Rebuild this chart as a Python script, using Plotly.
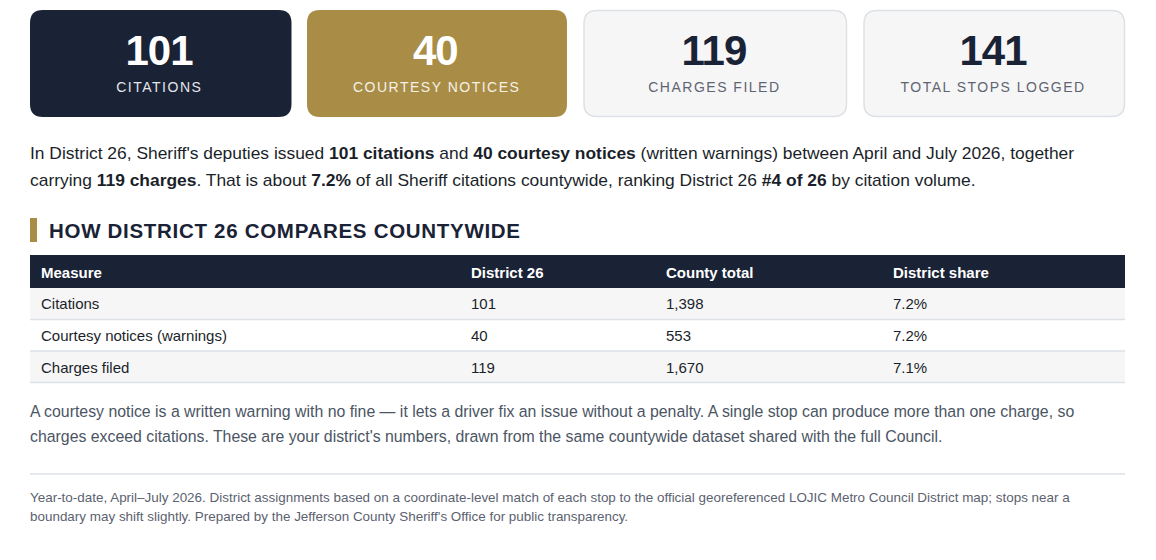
import plotly.graph_objects as go

# ---- data ----
stat_values = ["101", "40", "119", "141"]
stat_labels = ["CITATIONS", "COURTESY NOTICES", "CHARGES FILED", "TOTAL STOPS LOGGED"]
table_header = ["Measure", "District 26", "County total", "District share"]
measures = ["Citations", "Courtesy notices (warnings)", "Charges filed"]
district_values = ["101", "40", "119"]
county_totals = ["1,398", "553", "1,670"]
district_shares = ["7.2%", "7.2%", "7.1%"]
intro_lines = [
    "In District 26, Sheriff's deputies issued <b>101 citations</b> and <b>40 courtesy notices</b> (written warnings) between April and July 2026, together",
    "carrying <b>119 charges</b>. That is about <b>7.2%</b> of all Sheriff citations countywide, ranking District 26 <b>#4 of 26</b> by citation volume.",
]
section_title = "HOW DISTRICT 26 COMPARES COUNTYWIDE"
note_lines = [
    "A courtesy notice is a written warning with no fine — it lets a driver fix an issue without a penalty. A single stop can produce more than one charge, so",
    "charges exceed citations. These are your district's numbers, drawn from the same countywide dataset shared with the full Council.",
]
foot_lines = [
    "Year-to-date, April–July 2026. District assignments based on a coordinate-level match of each stop to the official georeferenced LOJIC Metro Council District map; stops near a",
    "boundary may shift slightly. Prepared by the Jefferson County Sheriff's Office for public transparency.",
]

# ---- style ----
NAVY = "#1a2236"
GOLD = "#a98d47"
PALE = "#f6f6f7"
RULE = "#dde1e6"
INK = "#1b1f2a"
GREY = "#4b5563"
FOOT = "#5b6270"
BODY = "Liberation Sans, Arial, sans-serif"

cards = [
    (30, 291.5, NAVY, None, "#ffffff", "#e3e5ea"),
    (307, 567, GOLD, None, "#ffffff", "#f5f1e6"),
    (583.5, 847, PALE, RULE, NAVY, "#5f6570"),
    (863.5, 1125, PALE, RULE, NAVY, "#5f6570"),
]
col_x = [41, 471, 666, 893]
row_y = [303.5, 335.5, 367.5]
rule_y = [319.5, 351, 382.5]


def rounded(x0, y0, x1, y1, r):
    return (f"M{x0+r},{y0} L{x1-r},{y0} Q{x1},{y0} {x1},{y0+r} L{x1},{y1-r} Q{x1},{y1} {x1-r},{y1} "
            f"L{x0+r},{y1} Q{x0},{y1} {x0},{y1-r} L{x0},{y0+r} Q{x0},{y0} {x0+r},{y0} Z")


fig = go.Figure()
shapes, ann = [], []


def text(x, y, s, size, color, anchor="left"):
    ann.append(dict(x=x, y=y, text=s, xref="x", yref="y", showarrow=False, xanchor=anchor, yanchor="middle",
                    font=dict(size=size, color=color, family=BODY), align=anchor, borderpad=0, borderwidth=0))


for (x0, x1, fill, line, numc, labc), v, lab in zip(cards, stat_values, stat_labels):
    if line:
        shapes.append(dict(type="path", path=rounded(x0 + .5, 10.5, x1 - .5, 116.5, 13), fillcolor=fill,
                           line=dict(color=line, width=1.5), layer="below"))
    else:
        shapes.append(dict(type="path", path=rounded(x0, 10, x1, 117, 13), fillcolor=fill,
                           line=dict(width=0), layer="below"))
    text((x0 + x1) / 2 - 1.5, 50.5, f"<b>{v}</b>", 42, numc, "center")
    text((x0 + x1) / 2 - 1, 87, lab, 14, labc, "center")

for y, s in zip([153, 180], intro_lines):
    text(30, y, s, 17.42, INK)

shapes.append(dict(type="rect", x0=30, x1=37, y0=218, y1=242, fillcolor=GOLD, line=dict(width=0)))
text(49, 230.5, f"<b>{section_title}</b>", 20.5, NAVY)

shapes.append(dict(type="rect", x0=30, x1=1125, y0=255, y1=288, fillcolor=NAVY, line=dict(width=0)))
for x, h in zip(col_x, table_header):
    text(x, 272.5, f"<b>{h}</b>", 15, "#ffffff")

for i, y in enumerate(row_y):
    top = 288 if i == 0 else rule_y[i - 1]
    if i % 2 == 0:
        shapes.append(dict(type="rect", x0=30, x1=1125, y0=top, y1=rule_y[i], fillcolor=PALE, line=dict(width=0), layer="below"))
    shapes.append(dict(type="line", x0=30, x1=1125, y0=rule_y[i], y1=rule_y[i], line=dict(color=RULE, width=1.5)))
    for x, col in zip(col_x, [measures, district_values, county_totals, district_shares]):
        text(x, y, col[i], 15, INK)

for y, s in zip([411.5, 436.5], note_lines):
    text(30, y, s, 15.85, GREY)

shapes.append(dict(type="line", x0=30, x1=1125, y0=474, y1=474, line=dict(color=RULE, width=1.5)))
for y, s in zip([497, 516.5], foot_lines):
    text(30, y, s, 13.45, FOOT)

fig.update_layout(
    width=1156, height=560, margin=dict(l=0, r=0, t=0, b=0),
    paper_bgcolor="#ffffff", plot_bgcolor="#ffffff", showlegend=False,
    xaxis=dict(range=[0, 1156], visible=False, fixedrange=True),
    yaxis=dict(range=[560, 0], visible=False, fixedrange=True),
    shapes=shapes, annotations=ann,
)
post = """document.body.style.margin='0';document.documentElement.style.overflow='hidden';
document.querySelectorAll('.annotation-text').forEach(function(t){
  var s=t.textContent;
  if(['101','40','119','141'].indexOf(s)>=0 && parseFloat(t.style.fontSize)>30){t.style.letterSpacing='-1px';}
  else if(s===s.toUpperCase() && s.indexOf('HOW')===0){t.style.letterSpacing='0.7px';}
  else if(s===s.toUpperCase() && /^[A-Z ]+$/.test(s)){t.style.letterSpacing='1.5px';}
});"""
fig.write_html("out.html", config={"displayModeBar": False}, post_script=post)
